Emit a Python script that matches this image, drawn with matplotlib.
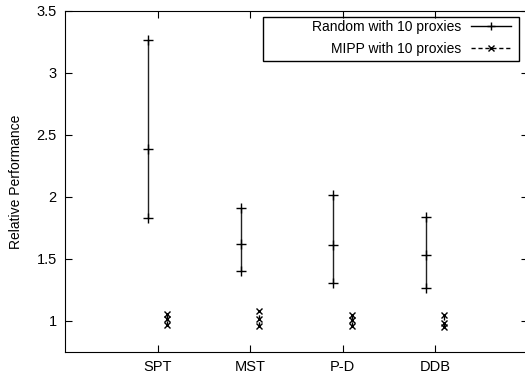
import numpy as np
import matplotlib
matplotlib.use("Agg")
from matplotlib import pyplot as plt
from matplotlib.patches import Rectangle

plt.rcParams['font.family'] = ['Liberation Sans', 'DejaVu Sans']

groups = ['SPT', 'MST', 'P-D', 'DDB']

# random placement: min / mean / max
rand_min = [1.83, 1.40, 1.31, 1.27]
rand_mid = [2.39, 1.62, 1.61, 1.53]
rand_max = [3.27, 1.91, 2.02, 1.84]

# MIPP placement: min / mean / max
mipp_min = [0.97, 0.96, 0.96, 0.95]
mipp_mid = [1.02, 1.02, 1.01, 0.98]
mipp_max = [1.06, 1.08, 1.05, 1.05]

fig = plt.figure(figsize=(5.25, 3.77), dpi=100)
ax = fig.add_axes([65 / 525, 25 / 377, 462.7 / 525, 341 / 377])

x = np.arange(1, len(groups) + 1)
xr = x - 0.1
xm = x + 0.1

ax.vlines(xr, rand_min, rand_max, color='#222222', lw=1)
for vals in (rand_min, rand_mid, rand_max):
    ax.plot(xr, vals, ls='none', marker='+', ms=7, mew=1, color='black')

ax.vlines(xm, mipp_min, mipp_max, color='black', lw=1, linestyles=(0, (3, 2)))
for vals in (mipp_min, mipp_mid, mipp_max):
    ax.plot(xm, vals, ls='none', marker='x', ms=5, mew=1, color='black')

# legend proxies
ax.plot([], [], color='black', lw=1, marker='+', ms=6, label='Random with 10 proxies')
ax.plot([], [], color='black', lw=1, ls=(0, (3, 2)), marker='x', ms=4.5,
        label='MIPP with 10 proxies')

ax.set_xlim(0, 5)
ax.set_ylim(0.75, 3.5)
ax.set_xticks(x)
ax.set_xticklabels(groups)
ax.set_yticks([1, 1.5, 2, 2.5, 3, 3.5])
ax.set_yticklabels(['1', '1.5', '2', '2.5', '3', '3.5'])
ax.tick_params(direction='in', length=5, top=True, right=True, labelsize=10.5, pad=6)
ax.set_ylabel('Relative Performance', fontsize=10, labelpad=10)

leg = ax.legend(loc='upper right', bbox_to_anchor=(511 / 525, 1 - 20 / 377),
                bbox_transform=fig.transFigure, markerfirst=False, frameon=False,
                fontsize=10, handlelength=2.9, borderpad=0,
                labelspacing=0.58, handletextpad=0.7, borderaxespad=0)
for t in leg.get_texts():
    t.set_ha('right')
leg._legend_box.align = 'right'

# gnuplot-style key box
fig.patches.append(Rectangle((263 / 525, 1 - 61 / 377), 256 / 525, 44 / 377,
                             transform=fig.transFigure, fill=False,
                             edgecolor='black', lw=1, zorder=5))

fig.savefig('out.png', dpi=100)
